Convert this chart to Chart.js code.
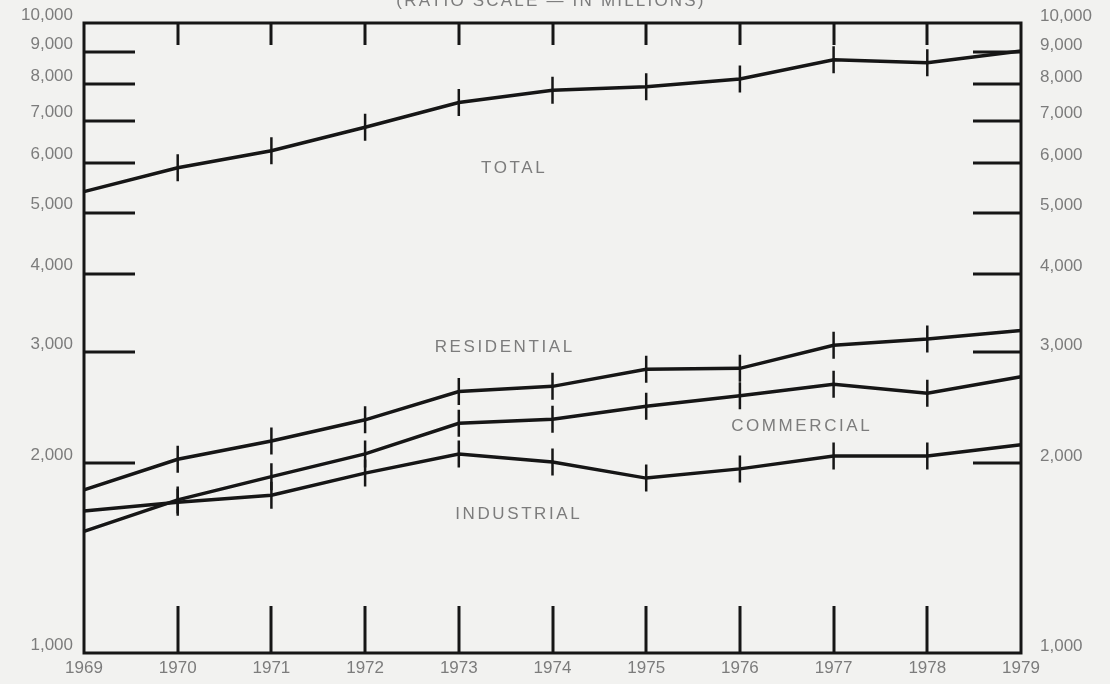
<!DOCTYPE html>
<html>
<head>
<meta charset="utf-8">
<script src="https://cdn.jsdelivr.net/npm/chart.js@4/dist/chart.umd.min.js"></script>
<style>
  html, body { margin: 0; padding: 0; background: #f2f2f0; }
  #wrap { width: 1110px; height: 684px; }
</style>
</head>
<body>
<div id="wrap"><canvas id="chart" width="1110" height="684"></canvas></div>
<script>
// Years on the horizontal axis
const years = ['1969', '1970', '1971', '1972', '1973', '1974', '1975', '1976', '1977', '1978', '1979'];

// Sales by sector, millions (ratio scale)
const total       = [5400, 5890, 6270, 6830, 7480, 7820, 7920, 8150, 8740, 8650, 9030];
const residential = [1815, 2030, 2170, 2345, 2600, 2650, 2820, 2830, 3080, 3150, 3250];
const commercial  = [1560, 1750, 1905, 2070, 2315, 2350, 2465, 2560, 2670, 2585, 2745];
const industrial  = [1680, 1735, 1780, 1930, 2070, 2010, 1895, 1960, 2055, 2055, 2140];

// Labelled values on both vertical axes
const yTickValues = [1000, 2000, 3000, 4000, 5000, 6000, 7000, 8000, 9000, 10000];

// Series names written inside the plot: [text, year index, value]
const seriesNames = [
  ['TOTAL',       4.59, 5890],
  ['RESIDENTIAL', 4.49, 3060],
  ['COMMERCIAL',  7.66, 2290],
  ['INDUSTRIAL',  4.64, 1660]
];

const titleText = '(RATIO SCALE \u2014 IN MILLIONS)';

const INK = '#161616';
const TEXT = '#7c7c7c';
const FONT = '"Liberation Sans", Arial, Helvetica, sans-serif';

const canvas = document.getElementById('chart');
const ctx2d = canvas.getContext('2d');
ctx2d.letterSpacing = '2.8px';

function lineSet(label, data) {
  return {
    label,
    data,
    borderColor: INK,
    borderWidth: 3.5,
    fill: false,
    tension: 0,
    pointStyle: 'line',
    rotation: 90,
    pointRadius: c => (c.dataIndex === 0 || c.dataIndex === years.length - 1) ? 0 : 13.5,
    pointBorderWidth: 2.5,
    pointBorderColor: INK,
    pointBackgroundColor: INK,
    yAxisID: 'y'
  };
}

// keep axis label overhang from pushing the plot area inward
function noOverhang(s) {
  s.paddingTop = 0; s.paddingBottom = 0; s.paddingLeft = 0; s.paddingRight = 0;
}

// Frame, inward tick marks, series names and the scale title
const frameMarks = {
  id: 'frameMarks',
  beforeDatasetsDraw(chart) {
    const { ctx, chartArea: a, scales } = chart;
    const y = scales.y, x = scales.x;
    ctx.save();
    ctx.strokeStyle = INK;
    ctx.lineCap = 'butt';

    // inward value ticks on the left and right edges
    ctx.lineWidth = 3;
    yTickValues.slice(1, -1).forEach(v => {
      const py = Math.round(y.getPixelForValue(v));
      ctx.beginPath();
      ctx.moveTo(a.left, py); ctx.lineTo(a.left + 51, py);
      ctx.moveTo(a.right, py); ctx.lineTo(a.right - 48, py);
      ctx.stroke();
    });

    // year ticks hanging from the top and rising from the bottom
    years.forEach((yr, i) => {
      if (i === 0 || i === years.length - 1) return;
      const px = Math.round(x.getPixelForValue(i));
      ctx.beginPath();
      ctx.moveTo(px, a.top); ctx.lineTo(px, a.top + 22);
      ctx.moveTo(px, a.bottom); ctx.lineTo(px, a.bottom - 47);
      ctx.stroke();
    });
    ctx.restore();
  },
  afterDraw(chart) {
    const { ctx, chartArea: a, scales } = chart;
    ctx.save();
    // frame
    ctx.strokeStyle = INK;
    ctx.lineWidth = 3;
    ctx.strokeRect(a.left, a.top, a.right - a.left, a.bottom - a.top);

    // series names
    ctx.fillStyle = TEXT;
    ctx.font = '17px ' + FONT;
    ctx.letterSpacing = '2.6px';
    ctx.textAlign = 'center';
    ctx.textBaseline = 'middle';
    seriesNames.forEach(([t, xi, v]) => {
      ctx.fillText(t, scales.x.getPixelForValue(xi), scales.y.getPixelForValue(v));
    });

    // scale title, running off the top edge
    ctx.font = '17px ' + FONT;
    ctx.letterSpacing = '2.2px';
    ctx.textBaseline = 'alphabetic';
    ctx.fillText(titleText, 551, 6);
    ctx.restore();
  }
};

const tickFont = { family: FONT, size: 17 };

const chart = new Chart(ctx2d, {
  type: 'line',
  data: {
    labels: years,
    datasets: [
      lineSet('Total', total),
      lineSet('Residential', residential),
      lineSet('Commercial', commercial),
      lineSet('Industrial', industrial)
    ]
  },
  options: {
    responsive: false,
    animation: false,
    devicePixelRatio: 1,
    layout: { padding: { top: 23, left: 0, right: 0, bottom: 0 } },
    plugins: { legend: { display: false }, tooltip: { enabled: false } },
    scales: {
      x: {
        type: 'category',
        offset: false,
        grid: { display: false, drawTicks: false },
        border: { display: false },
        ticks: { color: TEXT, font: tickFont, padding: 5, maxRotation: 0, autoSkip: false },
        afterFit: s => { s.height = 31; noOverhang(s); }
      },
      y: {
        type: 'logarithmic',
        position: 'left',
        min: 1000,
        max: 10000,
        afterBuildTicks: s => { s.ticks = yTickValues.map(v => ({ value: v })); },
        grid: { display: false, drawTicks: false },
        border: { display: false },
        ticks: {
          color: TEXT, font: tickFont, padding: 11, labelOffset: -8,
          callback: v => v.toLocaleString('en-US')
        },
        afterFit: s => { s.width = 84; noOverhang(s); }
      },
      y2: {
        type: 'logarithmic',
        position: 'right',
        min: 1000,
        max: 10000,
        afterBuildTicks: s => { s.ticks = yTickValues.map(v => ({ value: v })); },
        grid: { display: false, drawTicks: false },
        border: { display: false },
        ticks: {
          color: TEXT, font: tickFont, padding: 19, labelOffset: -7,
          callback: v => v.toLocaleString('en-US')
        },
        afterFit: s => { s.width = 89; noOverhang(s); }
      }
    }
  },
  plugins: [frameMarks]
});
</script>
</body>
</html>
